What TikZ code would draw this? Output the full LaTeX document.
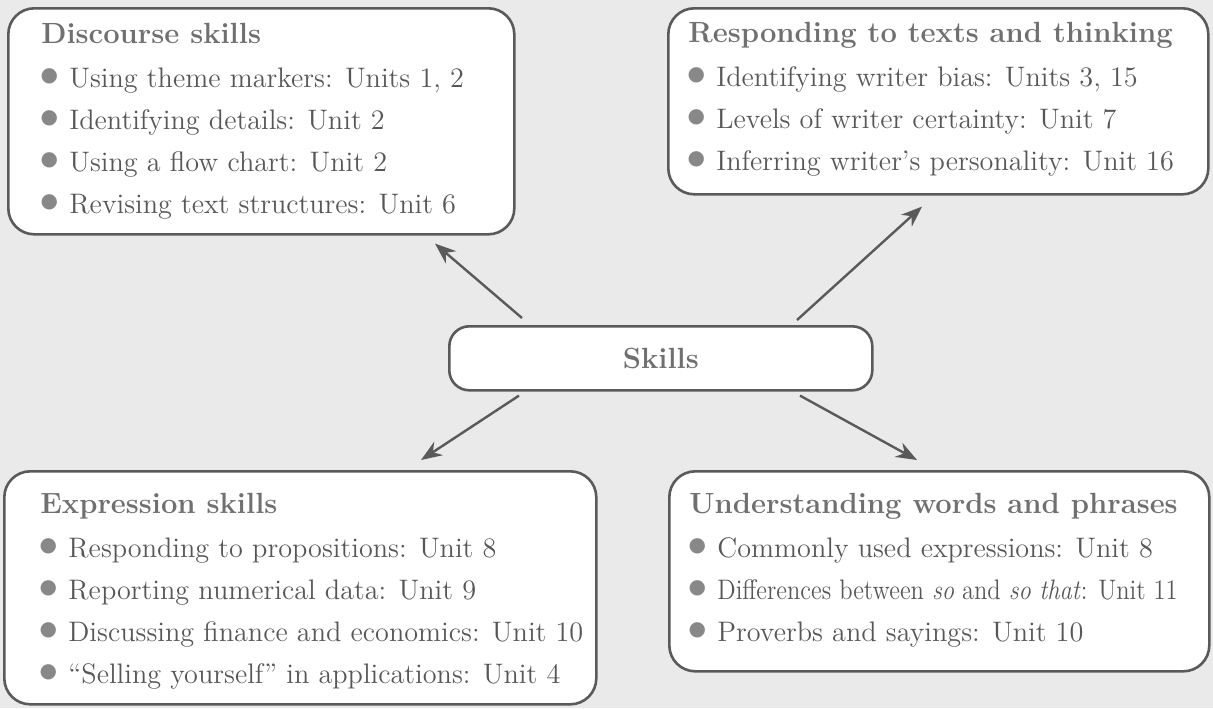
\documentclass[tikz,border=0pt]{standalone}
\usepackage{fontspec}
\newfontfamily\dotfont{DejaVu Sans}
\usetikzlibrary{calc,positioning,arrows.meta}
\definecolor{bggray}{HTML}{EAEAEA}
\definecolor{linegray}{HTML}{5A5A5A}
\definecolor{headgray}{HTML}{707070}
\definecolor{textgray}{HTML}{575757}
\definecolor{dotgray}{HTML}{888888}
\newcommand{\skdot}{\makebox[14pt][l]{\hspace{4pt}\makebox[0pt]{\textcolor{dotgray}{\raisebox{3pt}{\fontsize{10}{10}\dotfont ●}}}}}
\newcommand{\skhead}[1]{{\fontsize{14.6}{21}\selectfont\bfseries\color{headgray}#1}}

\begin{document}
\begin{tikzpicture}[x=0.5pt,y=-0.5pt,
  skbox/.style={draw=linegray,line width=1.3pt,fill=white,rounded corners=13pt,anchor=north west,inner sep=0pt},
  sklist/.style={anchor=base west,inner sep=0pt,text=textgray,font=\fontsize{14.1}{21}\selectfont},
  skarrow/.style={draw=linegray,line width=1.2pt,-{Stealth[length=10.5pt,width=8pt]}}]
\useasboundingbox (0,0) rectangle (1213,708);
\fill[bggray] (0,0) rectangle (1213,708);

\node[skbox,minimum width=253pt,minimum height=113pt] (disc) at (7,7) {};
\node[skbox,minimum width=270pt,minimum height=93pt] (resp) at (667,7) {};
\node[skbox,rounded corners=10pt,minimum width=211.5pt,minimum height=32pt,
  font=\fontsize{14.6}{17}\selectfont\bfseries,text=headgray] (skills) at (448,325) {Skills};
\node[skbox,minimum width=296pt,minimum height=116.5pt] (expr) at (3,470) {};
\node[skbox,minimum width=270pt,minimum height=100pt] (und) at (668,470) {};

\node[sklist] (discList) at ($(disc.north west)+(34,36)$) {\begin{tabular}[t]{@{}l@{}}
  \skhead{Discourse skills}\\[1pt]
  \skdot Using theme markers: Units 1, 2\\
  \skdot Identifying details: Unit 2\\
  \skdot Using a flow chart: Unit 2\\
  \skdot Revising text structures: Unit 6
\end{tabular}};
\node[sklist] (respList) at ($(resp.north west)+(21,35)$) {\begin{tabular}[t]{@{}l@{}}
  \skhead{Responding to texts and thinking}\\[1pt]
  \skdot Identifying writer bias: Units 3, 15\\
  \skdot Levels of writer certainty: Unit 7\\
  \skdot Inferring writer's personality: Unit 16
\end{tabular}};
\node[sklist] (exprList) at ($(expr.north west)+(37,43)$) {\begin{tabular}[t]{@{}l@{}}
  \skhead{Expression skills}\\[1pt]
  \skdot Responding to propositions: Unit 8\\
  \skdot Reporting numerical data: Unit 9\\
  \skdot Discussing finance and economics: Unit 10\\
  \skdot ``Selling yourself'' in applications: Unit 4
\end{tabular}};
\node[sklist] (undList) at ($(und.north west)+(21,43)$) {\begin{tabular}[t]{@{}l@{}}
  \skhead{Understanding words and phrases}\\[1pt]
  \skdot Commonly used expressions: Unit 8\\
  \skdot \scalebox{0.87}[1]{Differences between \emph{so} and \emph{so that}: Unit 11}\\
  \skdot Proverbs and sayings: Unit 10
\end{tabular}};

\draw[skarrow] ($(skills.north west)+(74,-7)$) -- ($(disc.south west)+(428,8)$);
\draw[skarrow] ($(skills.north west)+(349,-5)$) -- ($(resp.south west)+(255,11)$);
\draw[skarrow] ($(skills.south west)+(71,4)$) -- ($(expr.north west)+(418,-10)$);
\draw[skarrow] ($(skills.south west)+(352,4)$) -- ($(und.north west)+(249,-10)$);
\end{tikzpicture}
\end{document}
